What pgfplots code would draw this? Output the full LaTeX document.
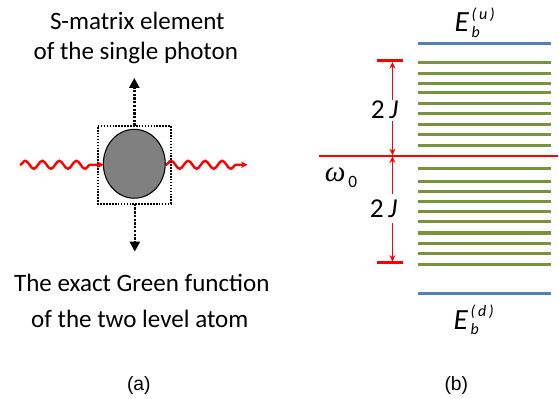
\documentclass[border=0pt]{standalone}
\usepackage{fontspec}
\setmainfont{Carlito}
\newfontfamily\arialf{Liberation Sans}
\newfontfamily\timesf{Liberation Serif}
\usepackage{pgfplots}
\pgfplotsset{compat=1.18}
\usetikzlibrary{arrows.meta,decorations.pathmorphing}
\definecolor{lvgreen}{HTML}{77933C}
\definecolor{lvblue}{HTML}{4F81BD}
\definecolor{atomgray}{HTML}{808080}
\definecolor{lred}{HTML}{FF0000}
\begin{document}
\begin{tikzpicture}
\begin{axis}[
  scale only axis, width=419.25pt, height=297.75pt,
  xmin=0, xmax=559, ymin=0, ymax=397, y dir=reverse,
  hide axis, clip=false,
]
\addplot[draw=none] coordinates {(0,0) (559,397)};
% ---------- panel (a) ----------
\node[font=\fontsize{18.8}{20}\selectfont, anchor=base] at (axis cs:137.5,30) {S-matrix element};
\node[font=\fontsize{18.8}{20}\selectfont, anchor=base] at (axis cs:136,60) {of the single photon};
\node[font=\fontsize{18.8}{20}\selectfont, anchor=base] at (axis cs:142,292) {The exact Green function};
\node[font=\fontsize{18.8}{20}\selectfont, anchor=base] at (axis cs:140,328) {of the two level atom};
% dotted box
\addplot[black, line width=1.2pt, densely dotted] coordinates {(98,126) (171,126) (171,204) (98,204) (98,126)};
% dotted arrows
\addplot[black, line width=1.8pt, densely dotted, -{Triangle[length=7.5pt,width=7.5pt]}] coordinates {(134.5,126) (134.5,78)};
\addplot[black, line width=1.8pt, densely dotted, -{Triangle[length=7.5pt,width=7.5pt]}] coordinates {(135,204) (135,252)};
% atom
\draw[black, fill=atomgray, line width=0.8pt] (axis cs:134.5,164) ellipse [x radius=31, y radius=34.5];
% photon lines
\addplot[lred, line width=1.8pt, decorate, decoration={snake, amplitude=3pt, segment length=12.8pt, post length=6pt}, -{Stealth[length=5pt,width=5pt]}] coordinates {(20,165) (104,165)};
\addplot[lred, line width=1.8pt, decorate, decoration={snake, amplitude=3pt, segment length=12.8pt, pre length=0pt, post length=5pt}, -{Stealth[length=5pt,width=5pt]}] coordinates {(166,165) (248,165)};
\node[font=\arialf\fontsize{14.5}{16}\selectfont, anchor=base] at (axis cs:139,391) {(a)};
% ---------- panel (b) ----------
\addplot[lvblue, line width=2.2pt] coordinates {(419,44) (552,44)};
\addplot[lvblue, line width=2.2pt] coordinates {(419,294) (552,294)};
\pgfplotsinvokeforeach{62.7,73.7,83.3,92.7,103.3,113.3,124.3,135,145.7,168.7,181.3,191.3,201.7,212,222,233.3,243.7,254.3,265.3}{
  \addplot[lvgreen, line width=2.3pt] coordinates {(419,#1) (552,#1)};
}
% omega_0 line
\addplot[lred, line width=1.2pt] coordinates {(319,156) (559,156)};
% brackets
\addplot[lred, line width=2.2pt] coordinates {(378,61) (404,61)};
\addplot[lred, line width=2.2pt] coordinates {(378,263) (404,263)};
\addplot[lred, line width=0.8pt, -{Stealth[length=5pt,width=4.5pt]}] coordinates {(393,100) (393,62)};
\addplot[lred, line width=0.8pt, -{Stealth[length=5pt,width=4.5pt]}] coordinates {(393,121) (393,155.5)};
\addplot[lred, line width=0.8pt, -{Stealth[length=5pt,width=4.5pt]}] coordinates {(393,194) (393,156.5)};
\addplot[lred, line width=0.8pt, -{Stealth[length=5pt,width=4.5pt]}] coordinates {(393,223) (393,262)};
\node[font=\fontsize{20.5}{22}\selectfont, anchor=base] at (axis cs:385,119) {2\,\textit{J}};
\node[font=\fontsize{20.5}{22}\selectfont, anchor=base] at (axis cs:384,218) {2\,\textit{J}};
\node[anchor=base west, inner sep=0pt] at (axis cs:325,182) {\timesf\itshape\fontsize{22}{22}\selectfont ω\raisebox{-4.5pt}{\normalfont\fontsize{13}{13}\selectfont\,0}};
\node[anchor=base west, inner sep=0pt] at (axis cs:455,32) {\fontsize{22}{22}\selectfont\itshape E\rlap{\raisebox{-3.8pt}{\fontsize{12}{12}\selectfont\,b}}\raisebox{9.5pt}{\fontsize{12}{12}\selectfont\,(\,u\,)}};
\node[anchor=base west, inner sep=0pt] at (axis cs:454,330) {\fontsize{22}{22}\selectfont\itshape E\rlap{\raisebox{-3.8pt}{\fontsize{12}{12}\selectfont\,b}}\raisebox{9.5pt}{\fontsize{12}{12}\selectfont\,(\,d\,)}};
\node[font=\arialf\fontsize{14.5}{16}\selectfont, anchor=base] at (axis cs:457,391) {(b)};
\end{axis}
\end{tikzpicture}
\end{document}
